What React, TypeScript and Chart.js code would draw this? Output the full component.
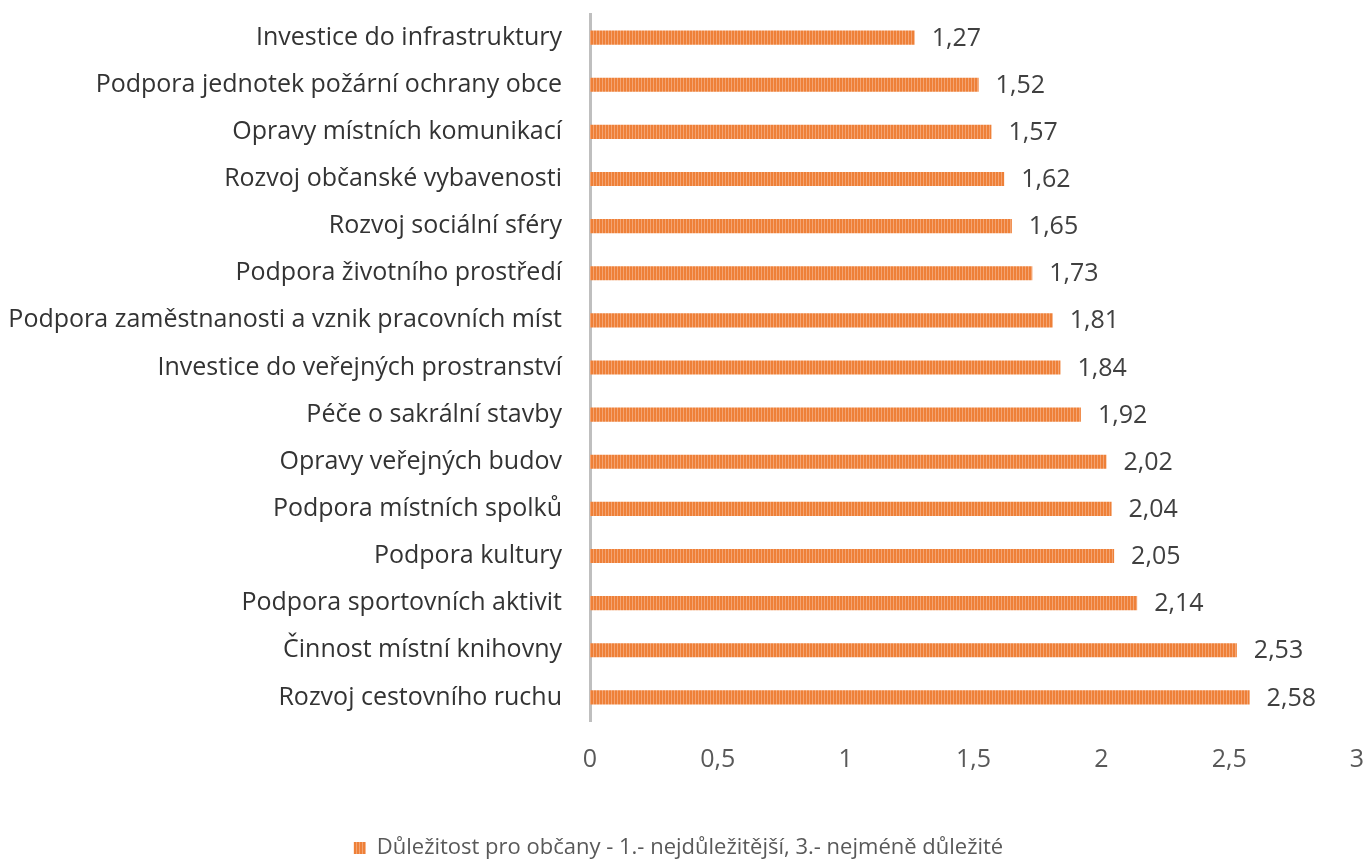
import React, { useEffect, useRef } from "react";
import { Chart, registerables } from "chart.js";

Chart.register(...registerables);

const categories = [
  "Investice do infrastruktury",
  "Podpora jednotek požární ochrany obce",
  "Opravy místních komunikací",
  "Rozvoj občanské vybavenosti",
  "Rozvoj sociální sféry",
  "Podpora životního prostředí",
  "Podpora zaměstnanosti a vznik pracovních míst",
  "Investice do veřejných prostranství",
  "Péče o sakrální stavby",
  "Opravy veřejných budov",
  "Podpora místních spolků",
  "Podpora kultury",
  "Podpora sportovních aktivit",
  "Činnost místní knihovny",
  "Rozvoj cestovního ruchu",
];

const values = [1.27, 1.52, 1.57, 1.62, 1.65, 1.73, 1.81, 1.84, 1.92, 2.02, 2.04, 2.05, 2.14, 2.53, 2.58];

const seriesLabel = "Důležitost pro občany - 1.- nejdůležitější, 3.- nejméně důležité";

const FONT = "'Open Sans', Lato, sans-serif";

function fmt(v: number, digits?: number) {
  const s = digits !== undefined ? v.toFixed(digits) : String(v);
  return s.replace(".", ",");
}

function makePattern(): CanvasPattern | string {
  const c = document.createElement("canvas");
  c.width = 3;
  c.height = 4;
  const ctx = c.getContext("2d");
  if (!ctx) return "#ED7D31";
  ctx.fillStyle = "#EE8038";
  ctx.fillRect(0, 0, 3, 4);
  ctx.fillStyle = "#F4A472";
  ctx.fillRect(2, 0, 1, 4);
  const p = ctx.createPattern(c, "repeat");
  return p || "#ED7D31";
}

const valueLabelPlugin = {
  id: "valueLabels",
  afterDatasetsDraw(chart: any) {
    const ctx = chart.ctx;
    const meta = chart.getDatasetMeta(0);
    ctx.save();
    ctx.font = `25px ${FONT}`;
    ctx.fillStyle = "#404040";
    ctx.textBaseline = "middle";
    ctx.textAlign = "left";
    meta.data.forEach((el: any, i: number) => {
      ctx.fillText(fmt(values[i], 2), el.x + 17, el.y + 1);
    });
    ctx.restore();
  },
};

export default function App() {
  const ref = useRef<HTMLCanvasElement | null>(null);

  useEffect(() => {
    document.body.style.margin = "0";
    const canvas = ref.current;
    if (!canvas) return;
    const pattern = makePattern();
    const chart = new Chart(canvas, {
      type: "bar",
      data: {
        labels: categories,
        datasets: [
          {
            label: seriesLabel,
            data: values,
            backgroundColor: pattern as any,
            borderWidth: 0,
            barPercentage: 0.3,
            categoryPercentage: 1,
          },
        ],
      },
      options: {
        indexAxis: "y",
        animation: false,
        responsive: false,
        maintainAspectRatio: false,
        layout: { padding: { top: 14, right: 11, left: 0, bottom: -8 } },
        scales: {
          x: {
            min: 0,
            max: 3,
            grid: { display: false },
            border: { display: false },
            ticks: {
              stepSize: 0.5,
              padding: 16,
              color: "#595959",
              font: { family: FONT, size: 25 },
              maxRotation: 0,
              callback: (v: any) => fmt(Number(v)),
            },
            afterFit: (scale: any) => {
              scale.height = 114;
              scale.paddingLeft = 0;
              scale.paddingRight = 0;
            },
          },
          y: {
            grid: { display: false },
            border: { display: true, color: "#BFBFBF", width: 3 },
            ticks: {
              padding: 20,
              color: "#333333",
              font: { family: FONT, size: 25 },
            },
            afterFit: (scale: any) => {
              scale.width = 590;
              scale.paddingTop = 0;
              scale.paddingBottom = 0;
            },
          },
        },
        plugins: {
          legend: {
            position: "bottom",
            labels: {
              boxWidth: 12,
              boxHeight: 12,
              padding: 2,
              color: "#595959",
              font: { family: FONT, size: 22 },
            },
          },
          tooltip: { enabled: false },
        },
      },
      plugins: [valueLabelPlugin],
    });
    return () => chart.destroy();
  }, []);

  return (
    <div style={{ width: 1368, height: 861 }}>
      <canvas ref={ref} width={1368} height={861} style={{ width: 1368, height: 861 }} />
    </div>
  );
}
